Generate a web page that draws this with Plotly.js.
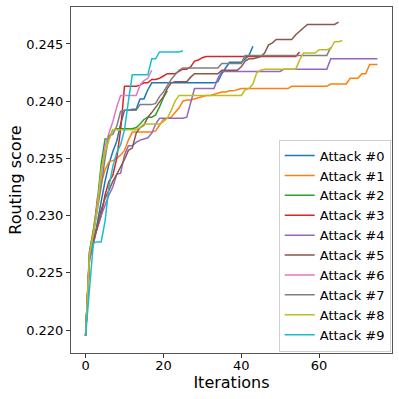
<!DOCTYPE html>
<html>
<head>
<meta charset="utf-8">
<script src="https://cdn.plot.ly/plotly-3.0.1.min.js"></script>
<style>html,body{margin:0;padding:0;background:#fff;}#chart{width:399px;height:399px;}</style>
</head>
<body>
<div id="chart"></div>
<script>
const seriesNames = ["Attack #0","Attack #1","Attack #2","Attack #3","Attack #4","Attack #5","Attack #6","Attack #7","Attack #8","Attack #9"];
const seriesColors = ["#1f77b4","#ff7f0e","#2ca02c","#d62728","#9467bd","#8c564b","#e377c2","#7f7f7f","#bcbd22","#17becf"];

const attack0 = [0.2195,0.2262,0.2275,0.2295,0.2312,0.2330,0.2345,0.2356,0.2365,0.2380,
  0.2392,0.2392,0.2393,0.2393,0.2402,0.2402,0.2410,0.2416,0.2416,0.2416,
  0.2416,0.2416,0.2416,0.2416,0.2416,0.2416,0.2416,0.2416,0.2416,0.2416,
  0.2416,0.2416,0.2416,0.2416,0.2417,0.2424,0.2429,0.2434,0.2434,0.2434,
  0.2434,0.2437,0.2440,0.2448];
const attack1 = [0.2195,0.2262,0.2280,0.2315,0.2328,0.2340,0.2347,0.2348,0.2350,0.2353,
  0.2357,0.2366,0.2373,0.2373,0.2373,0.2373,0.2373,0.2373,0.2374,0.2379,
  0.2384,0.2385,0.2386,0.2390,0.2394,0.2400,0.2401,0.2401,0.2402,0.2403,
  0.2404,0.2405,0.2405,0.2406,0.2407,0.2408,0.2408,0.2409,0.2409,0.2410,
  0.2411,0.2411,0.2411,0.2411,0.2411,0.2411,0.2411,0.2411,0.2411,0.2411,
  0.2411,0.2411,0.2411,0.2413,0.2413,0.2413,0.2413,0.2413,0.2413,0.2413,
  0.2413,0.2413,0.2413,0.2415,0.2415,0.2415,0.2415,0.2415,0.2420,0.2420,
  0.2420,0.2424,0.2424,0.2432,0.2432,0.2432];
const attack2 = [0.2195,0.2268,0.2288,0.2311,0.2345,0.2367,0.2367,0.2375,0.2376,0.2376,
  0.2376,0.2376,0.2376,0.2377,0.2380,0.2384,0.2386,0.2386,0.2388,0.2395,
  0.2403,0.2409];
const attack3 = [0.2195,0.2262,0.2278,0.2290,0.2300,0.2318,0.2330,0.2335,0.2350,0.2375,
  0.2413,0.2413,0.2413,0.2413,0.2414,0.2416,0.2416,0.2419,0.2419,0.2420,
  0.2422,0.2424,0.2424,0.2424,0.2426,0.2428,0.2428,0.2430,0.2435,0.2436,
  0.2438,0.2439,0.2439,0.2439,0.2439,0.2439,0.2439,0.2439,0.2439,0.2439,
  0.2439,0.2439,0.2439,0.2439,0.2439,0.2439,0.2439,0.2439,0.2439,0.2439,
  0.2439,0.2439,0.2439,0.2439,0.2439,0.2443];
const attack4 = [0.2195,0.2262,0.2275,0.2290,0.2300,0.2310,0.2318,0.2325,0.2336,0.2337,
  0.2353,0.2361,0.2361,0.2364,0.2366,0.2367,0.2368,0.2372,0.2380,0.2385,
  0.2385,0.2385,0.2385,0.2385,0.2385,0.2385,0.2386,0.2398,0.2411,0.2411,
  0.2411,0.2411,0.2411,0.2411,0.2420,0.2426,0.2426,0.2426,0.2426,0.2426,
  0.2426,0.2426,0.2426,0.2426,0.2426,0.2426,0.2426,0.2426,0.2426,0.2426,
  0.2426,0.2428,0.2428,0.2428,0.2428,0.2428,0.2428,0.2428,0.2428,0.2428,
  0.2428,0.2428,0.2428,0.2437,0.2437,0.2437,0.2437,0.2437,0.2437,0.2437,
  0.2437,0.2437,0.2437,0.2437,0.2437,0.2437];
const attack5 = [0.2195,0.2265,0.2278,0.2290,0.2305,0.2315,0.2322,0.2330,0.2336,0.2342,
  0.2349,0.2357,0.2359,0.2372,0.2377,0.2379,0.2386,0.2390,0.2395,0.2400,
  0.2404,0.2411,0.2416,0.2417,0.2417,0.2417,0.2417,0.2421,0.2424,0.2424,
  0.2424,0.2424,0.2424,0.2424,0.2424,0.2427,0.2427,0.2427,0.2427,0.2427,
  0.2430,0.2435,0.2437,0.2437,0.2438,0.2439,0.2442,0.2449,0.2451,0.2454,
  0.2454,0.2454,0.2454,0.2454,0.2458,0.2461,0.2464,0.2467,0.2467,0.2467,
  0.2467,0.2467,0.2467,0.2467,0.2467,0.2469];
const attack6 = [0.2195,0.2266,0.2285,0.2310,0.2335,0.2360,0.2372,0.2382,0.2395,0.2405,
  0.2405,0.2405,0.2405,0.2405,0.2414,0.2418,0.2420,0.2427];
const attack7 = [0.2195,0.2268,0.2285,0.2305,0.2325,0.2350,0.2370,0.2371,0.2378,0.2391,
  0.2392,0.2392,0.2392,0.2392,0.2397,0.2397,0.2397,0.2397,0.2398,0.2404,
  0.2408,0.2414,0.2419,0.2423,0.2427,0.2429,0.2429,0.2429,0.2429,0.2429,
  0.2429,0.2429,0.2429,0.2429,0.2429,0.2433,0.2433,0.2433,0.2433,0.2433,
  0.2433,0.2440,0.2440,0.2440,0.2440,0.2440,0.2440,0.2440,0.2440,0.2440,
  0.2440,0.2440,0.2440,0.2440,0.2440,0.2440,0.2440,0.2440,0.2440,0.2440,
  0.2440,0.2440,0.2440,0.2447];
const attack8 = [0.2195,0.2265,0.2285,0.2305,0.2340,0.2355,0.2366,0.2375,0.2375,0.2375,
  0.2375,0.2375,0.2375,0.2375,0.2377,0.2380,0.2380,0.2380,0.2380,0.2380,
  0.2382,0.2385,0.2392,0.2400,0.2405,0.2405,0.2405,0.2405,0.2405,0.2405,
  0.2405,0.2405,0.2405,0.2405,0.2405,0.2405,0.2405,0.2405,0.2405,0.2405,
  0.2405,0.2410,0.2411,0.2415,0.2425,0.2427,0.2428,0.2428,0.2428,0.2428,
  0.2428,0.2428,0.2428,0.2428,0.2428,0.2436,0.2442,0.2442,0.2442,0.2442,
  0.2445,0.2445,0.2445,0.2446,0.2452,0.2452,0.2453];
const attack9 = [0.2195,0.2236,0.2276,0.2277,0.2277,0.2295,0.2325,0.2343,0.2355,0.2362,
  0.2375,0.2400,0.2423,0.2423,0.2423,0.2423,0.2423,0.2437,0.2437,0.2443,
  0.2443,0.2443,0.2443,0.2443,0.2443,0.2444];

const allSeries = [attack0,attack1,attack2,attack3,attack4,attack5,attack6,attack7,attack8,attack9];
const xTicks = [0,20,40,60];
const yTicks = [0.220,0.225,0.230,0.235,0.240,0.245];

const FONT = "DejaVu Sans";

const traces = allSeries.map((ys, k) => ({
  type: "scatter",
  mode: "lines",
  name: seriesNames[k],
  x: ys.map((_, i) => i),
  y: ys,
  line: {color: seriesColors[k], width: 1.5}
}));

const layout = {
  width: 399, height: 399,
  margin: {l: 71, r: 7, t: 7, b: 46, pad: 0},
  paper_bgcolor: "#ffffff",
  plot_bgcolor: "#ffffff",
  showlegend: true,
  font: {family: FONT, color: "#000"},
  xaxis: {
    range: [-3.75, 78.75],
    tickvals: xTicks,
    ticktext: xTicks.map(String),
    ticks: "outside", ticklen: 4, tickwidth: 1, tickcolor: "#333",
    showline: true, linecolor: "#555", linewidth: 1, mirror: true,
    showgrid: false, zeroline: false,
    tickfont: {family: FONT, size: 13, color: "#000"},
    ticklabelstandoff: -4,
    title: {text: "Iterations", font: {family: FONT, size: 16, color: "#000"}, standoff: 0}
  },
  yaxis: {
    range: [0.21799, 0.24823],
    tickvals: yTicks,
    ticktext: yTicks.map(v => v.toFixed(3)),
    ticks: "outside", ticklen: 4, tickwidth: 1, tickcolor: "#333",
    showline: true, linecolor: "#555", linewidth: 1, mirror: true,
    showgrid: false, zeroline: false,
    tickfont: {family: FONT, size: 13, color: "#000"},
    title: {text: "Routing score", font: {family: FONT, size: 16, color: "#000"}, standoff: 0}
  },
  legend: {
    x: 0.996, y: 0.004, xanchor: "right", yanchor: "bottom",
    bgcolor: "rgba(255,255,255,0.8)", bordercolor: "#d0d0d0", borderwidth: 1,
    font: {family: FONT, size: 13, color: "#000"},
    tracegroupgap: 0
  }
};

Plotly.newPlot("chart", traces, layout, {displayModeBar: false, staticPlot: true});
</script>
</body>
</html>
